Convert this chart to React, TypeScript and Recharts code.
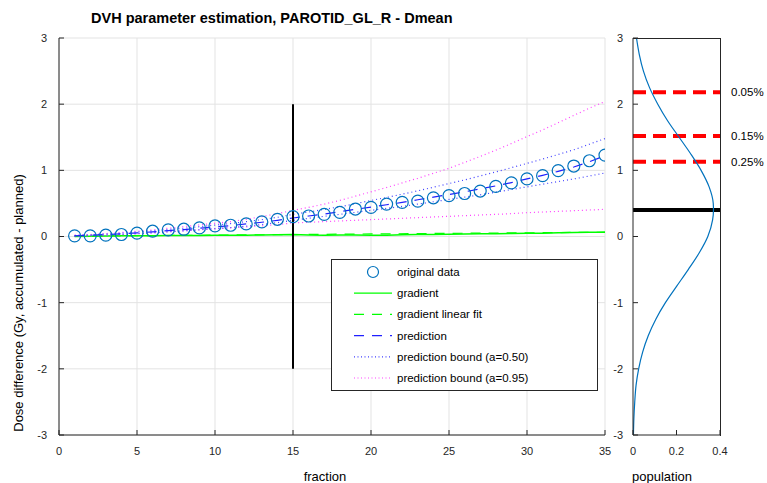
import { CartesianGrid, ComposedChart, Line, LineChart, ReferenceLine, Scatter, XAxis, YAxis } from 'recharts'

const FONT = '"Liberation Sans", Arial, Helvetica, sans-serif'
const AXIS = '#262626'
const GRID = '#e3e3e3'

// main panel
const fractions = [
  1, 2, 3, 4, 5, 6, 7, 8, 9, 10, 11, 12, 13, 14, 15, 16, 17, 18, 19, 20, 21, 22, 23, 24, 25, 26, 27, 28, 29, 30, 31,
  32, 33, 34, 35,
]
const original = [
  0.01, 0.01, 0.02, 0.03, 0.05, 0.08, 0.1, 0.11, 0.13, 0.16, 0.17, 0.19, 0.22, 0.26, 0.3, 0.31, 0.335, 0.365, 0.415,
  0.44, 0.49, 0.515, 0.535, 0.585, 0.617, 0.65, 0.687, 0.757, 0.81, 0.87, 0.92, 0.995, 1.065, 1.145, 1.23,
]
const prediction = [
  0.01, 0.02, 0.03, 0.04, 0.055, 0.07, 0.09, 0.105, 0.125, 0.145, 0.165, 0.19, 0.215, 0.245, 0.28, 0.31, 0.34, 0.375,
  0.41, 0.445, 0.48, 0.515, 0.555, 0.595, 0.635, 0.675, 0.72, 0.765, 0.815, 0.87, 0.925, 0.985, 1.05, 1.13, 1.22,
]
const upper50 = [
  0.015, 0.025, 0.037, 0.05, 0.067, 0.085, 0.107, 0.125, 0.148, 0.172, 0.196, 0.225, 0.255, 0.29, 0.335, 0.37, 0.41,
  0.45, 0.495, 0.545, 0.59, 0.64, 0.69, 0.745, 0.8, 0.855, 0.915, 0.975, 1.04, 1.105, 1.17, 1.24, 1.31, 1.395, 1.48,
]
const lower50 = [
  0.005, 0.015, 0.023, 0.032, 0.043, 0.055, 0.073, 0.085, 0.102, 0.12, 0.135, 0.157, 0.18, 0.21, 0.245, 0.275, 0.305,
  0.335, 0.365, 0.395, 0.425, 0.455, 0.49, 0.525, 0.56, 0.595, 0.63, 0.67, 0.71, 0.75, 0.79, 0.83, 0.87, 0.915, 0.96,
]
const upper95 = [
  0.02, 0.03, 0.045, 0.06, 0.08, 0.1, 0.125, 0.15, 0.175, 0.2, 0.225, 0.26, 0.3, 0.345, 0.395, 0.44, 0.49, 0.545,
  0.61, 0.675, 0.74, 0.81, 0.88, 0.955, 1.03, 1.12, 1.21, 1.305, 1.405, 1.51, 1.61, 1.72, 1.83, 1.94, 2.04,
]
const lower95 = [
  0.005, 0.01, 0.015, 0.025, 0.04, 0.055, 0.07, 0.085, 0.1, 0.115, 0.13, 0.145, 0.16, 0.18, 0.205, 0.215, 0.225,
  0.235, 0.245, 0.255, 0.265, 0.275, 0.285, 0.295, 0.305, 0.315, 0.325, 0.335, 0.345, 0.36, 0.37, 0.38, 0.39, 0.4,
  0.41,
]
const gradient = [
  0.0, 0.005, 0.008, 0.01, 0.012, 0.013, 0.015, 0.016, 0.017, 0.018, 0.019, 0.02, 0.022, 0.025, 0.03, 0.022, 0.02,
  0.021, 0.022, 0.018, 0.02, 0.025, 0.03, 0.032, 0.035, 0.038, 0.04, 0.042, 0.045, 0.048, 0.05, 0.055, 0.06, 0.063,
  0.066,
]
const fitFractions = [1, 35]
const gradientFit = [0.005, 0.065]
const cutFraction = 15
const cutRange = [-2, 2]

const fractionTicks = [0, 5, 10, 15, 20, 25, 30, 35]
const doseTicks = [-3, -2, -1, 0, 1, 2, 3]

// population panel
const doseLevels = [
  -3, -2.75, -2.5, -2.25, -2, -1.75, -1.5, -1.25, -1, -0.75, -0.5, -0.25, 0, 0.25, 0.4, 0.5, 0.75, 1, 1.25, 1.5, 1.75,
  2, 2.25, 2.5, 2.75, 3,
]
const population = [
  0.002, 0.004, 0.008, 0.014, 0.026, 0.044, 0.07, 0.105, 0.149, 0.201, 0.254, 0.304, 0.344, 0.366, 0.37, 0.369, 0.35,
  0.313, 0.265, 0.212, 0.159, 0.114, 0.076, 0.048, 0.029, 0.016,
]
const popTicks = [0, 0.2, 0.4]
const thresholds = [2.18, 1.52, 1.13]
const thresholdLabels = ['0.05%', '0.15%', '0.25%']
const populationMean = 0.4

const legendItems = [
  { name: 'original data', kind: 'circle', color: '#0072BD', dash: '' },
  { name: 'gradient', kind: 'line', color: '#00FF00', dash: '' },
  { name: 'gradient linear fit', kind: 'line', color: '#00FF00', dash: '10 8' },
  { name: 'prediction', kind: 'line', color: '#2020FF', dash: '10 8' },
  { name: 'prediction bound (a=0.50)', kind: 'line', color: '#4040FF', dash: '1 2.5' },
  { name: 'prediction bound (a=0.95)', kind: 'line', color: '#FF40FF', dash: '1 2.5' },
]

const tickStyle = { fontSize: 11, fill: AXIS, fontFamily: FONT }

function Circle(props: any) {
  return <circle cx={props.cx} cy={props.cy} r={6} fill="none" stroke="#0072BD" strokeWidth={1.2} />
}

function LegendBox() {
  return (
    <svg width={267} height={132} style={{ position: 'absolute', left: 331, top: 259 }}>
      <rect x={0.5} y={0.5} width={266} height={131} fill="#fff" stroke={AXIS} />
      {legendItems.map((item, i) => {
        const cy = 13 + i * 21.2
        return (
          <g key={item.name}>
            {item.kind === 'circle' ? (
              <circle cx={42} cy={cy} r={5.5} fill="none" stroke={item.color} strokeWidth={1.2} />
            ) : (
              <line x1={23} x2={61} y1={cy} y2={cy} stroke={item.color} strokeWidth={1.2} strokeDasharray={item.dash} />
            )}
            <text x={66} y={cy + 4} fontSize={11.5} fontFamily={FONT} fill="#000">
              {item.name}
            </text>
          </g>
        )
      })}
    </svg>
  )
}

export default function App() {
  const data = fractions.map((x, i) => ({
    x,
    original: original[i],
    prediction: prediction[i],
    upper50: upper50[i],
    lower50: lower50[i],
    upper95: upper95[i],
    lower95: lower95[i],
    gradient: gradient[i],
  }))
  const fitData = fitFractions.map((x, i) => ({ x, fit: gradientFit[i] }))
  const popData = doseLevels.map((y, i) => ({ y, p: population[i] }))

  const label = { position: 'absolute' as const, fontFamily: FONT, color: '#000', whiteSpace: 'nowrap' as const }

  return (
    <div style={{ position: 'absolute', left: 0, top: 0, width: 767, height: 483, background: '#fff', fontFamily: FONT }}>
      <div style={{ ...label, left: 91, top: 10, fontSize: 14.5, fontWeight: 'bold' }}>
        DVH parameter estimation, PAROTID_GL_R - Dmean
      </div>
      <div
        style={{ ...label, left: 18, top: 303, fontSize: 13, transform: 'translate(-50%, -50%) rotate(-90deg)' }}
      >
        Dose difference (Gy, accumulated - planned)
      </div>
      <div style={{ ...label, left: 325, top: 476, fontSize: 13, transform: 'translate(-50%, -50%)' }}>fraction</div>
      <div style={{ ...label, left: 662, top: 476, fontSize: 13, transform: 'translate(-50%, -50%)' }}>population</div>

      <div style={{ position: 'absolute', left: 0, top: 0 }}>
        <ComposedChart width={620} height={483} data={data} margin={{ top: 38, right: 15, bottom: 18, left: 19 }}>
          <CartesianGrid stroke={GRID} />
          <XAxis
            type="number"
            dataKey="x"
            domain={[0, 35]}
            ticks={fractionTicks}
            height={30}
            tickSize={-5}
            tickMargin={17}
            stroke={AXIS}
            tick={tickStyle}
            allowDataOverflow
          />
          <YAxis
            type="number"
            domain={[-3, 3]}
            ticks={doseTicks}
            width={40}
            tickSize={-5}
            tickMargin={17}
            stroke={AXIS}
            tick={tickStyle}
            allowDataOverflow
          />
          <Line dataKey="gradient" stroke="#00FF00" strokeWidth={1.5} dot={false} isAnimationActive={false} />
          <Line
            data={fitData}
            dataKey="fit"
            stroke="#00FF00"
            strokeWidth={1.2}
            strokeDasharray="10 8"
            dot={false}
            isAnimationActive={false}
          />
          <Line dataKey="upper95" stroke="#FF40FF" strokeWidth={1.2} strokeDasharray="1 3" dot={false} isAnimationActive={false} />
          <Line dataKey="lower95" stroke="#FF40FF" strokeWidth={1.2} strokeDasharray="1 3" dot={false} isAnimationActive={false} />
          <Line dataKey="upper50" stroke="#4040FF" strokeWidth={1.2} strokeDasharray="1 3" dot={false} isAnimationActive={false} />
          <Line dataKey="lower50" stroke="#4040FF" strokeWidth={1.2} strokeDasharray="1 3" dot={false} isAnimationActive={false} />
          <Line dataKey="prediction" stroke="#2020FF" strokeWidth={1.2} strokeDasharray="10 8" dot={false} isAnimationActive={false} />
          <ReferenceLine
            segment={[
              { x: cutFraction, y: cutRange[0] },
              { x: cutFraction, y: cutRange[1] },
            ]}
            stroke="#000"
            strokeWidth={2}
          />
          <Scatter dataKey="original" shape={Circle} isAnimationActive={false} />
        </ComposedChart>
      </div>

      <div style={{ position: 'absolute', left: 560, top: 0 }}>
        <LineChart width={207} height={483} data={popData} layout="vertical" margin={{ top: 38, right: 47, bottom: 18, left: 43 }}>
          <XAxis
            type="number"
            dataKey="p"
            domain={[0, 0.4]}
            ticks={popTicks}
            height={30}
            tickSize={-5}
            tickMargin={17}
            stroke={AXIS}
            tick={tickStyle}
            allowDataOverflow
          />
          <YAxis
            type="number"
            dataKey="y"
            domain={[-3, 3]}
            ticks={doseTicks}
            reversed
            width={30}
            tickSize={-5}
            tickMargin={15}
            stroke={AXIS}
            tick={tickStyle}
            allowDataOverflow
          />
          {thresholds.map((t, i) => (
            <ReferenceLine
              key={t}
              y={t}
              stroke="#FF0000"
              strokeWidth={4}
              strokeDasharray="13 7"
              label={{ value: thresholdLabels[i], position: 'right', offset: 11, fontSize: 11.5, fill: '#000', fontFamily: FONT }}
            />
          ))}
          <ReferenceLine y={populationMean} stroke="#000" strokeWidth={4} />
          <Line type="monotone" dataKey="p" stroke="#0072BD" strokeWidth={1.2} dot={false} isAnimationActive={false} />
        </LineChart>
      </div>
      <div
        style={{
          position: 'absolute',
          left: 633,
          top: 37.5,
          width: 87,
          height: 397,
          borderTop: `1px solid ${AXIS}`,
          borderRight: `1px solid ${AXIS}`,
          pointerEvents: 'none',
        }}
      />

      <LegendBox />
    </div>
  )
}
